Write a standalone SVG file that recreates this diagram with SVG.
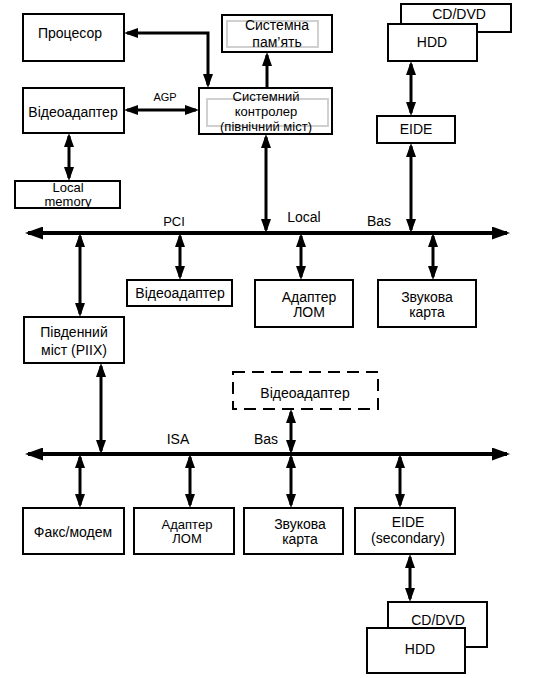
<svg xmlns="http://www.w3.org/2000/svg" width="536" height="678" viewBox="0 0 536 678">
<style>
.box{fill:#fff;stroke:#000;stroke-width:2}
.dash{fill:#fff;stroke:#000;stroke-width:2;stroke-dasharray:12 7}
.inner{fill:none;stroke:#d0d0d0;stroke-width:2}
text{font-family:"Liberation Sans",Arial,sans-serif;font-size:14px;fill:#000;text-anchor:middle}
.lbl{font-size:13px}
.sm{font-size:11px}
.t{font-size:13px}
.c{fill:none;stroke:#000;stroke-width:3;marker-start:url(#a);marker-end:url(#a)}
.c1{fill:none;stroke:#000;stroke-width:3;marker-end:url(#a)}
.bus{fill:none;stroke:#000;stroke-width:4;marker-start:url(#b);marker-end:url(#b)}
</style>
<defs>
<marker id="a" markerUnits="userSpaceOnUse" viewBox="0 0 14 10" refX="11" refY="5" markerWidth="14" markerHeight="10" orient="auto-start-reverse"><path d="M0,0 L14,5 L0,10 z" fill="#000"/></marker>
<marker id="b" markerUnits="userSpaceOnUse" viewBox="0 0 18 13" refX="15" refY="6.5" markerWidth="18" markerHeight="13" orient="auto-start-reverse"><path d="M0,0 L18,6.5 L0,13 z" fill="#000"/></marker>
</defs>

<g id="connectors">
<path class="bus" d="M28,233 H507"/>
<path class="bus" d="M28,454 H507"/>
<path class="c" d="M127,33 H208 V85"/>
<path class="c" d="M127,110 H196"/>
<path class="c" d="M69,136 V178"/>
<path class="c1" d="M267,88 V55"/>
<path class="c" d="M266,137 V230"/>
<path class="c" d="M411,64 V113"/>
<path class="c" d="M411,146 V230"/>
<path class="c" d="M80,236 V314"/>
<path class="c" d="M180,236 V277"/>
<path class="c" d="M301,236 V277"/>
<path class="c" d="M433,236 V277"/>
<path class="c" d="M101,366 V451"/>
<path class="c" d="M291,412 V451"/>
<path class="c" d="M80,457 V505"/>
<path class="c" d="M190,457 V505"/>
<path class="c" d="M291,457 V505"/>
<path class="c" d="M400,457 V505"/>
<path class="c" d="M410,557 V599"/>
</g>

<g id="labels">
<text class="sm" x="165" y="101">AGP</text>
<text class="lbl" x="174" y="226">PCI</text>
<text x="304" y="222">Local</text>
<text x="379" y="226">Bas</text>
<text x="178" y="444">ISA</text>
<text x="266" y="444">Bas</text>
</g>

<g id="processor"><rect class="box" x="23" y="14" width="101" height="47"/><text x="70" y="38">Процесор</text></g>
<g id="sysmem"><rect class="box" x="222" y="15" width="110" height="37"/><rect class="inner" x="227" y="21" width="91" height="26"/><text x="277" y="30">Системна</text><text x="277" y="47">пам’ять</text></g>
<g id="northbridge"><rect class="box" x="199" y="88" width="133" height="46"/><rect class="inner" x="207" y="99" width="121" height="27"/><text class="t" x="266" y="101">Системний</text><text class="t" x="266" y="116">контролер</text><text class="t" x="266" y="131">(північний міст)</text></g>
<g id="videoagp"><rect class="box" x="23" y="88" width="101" height="45"/><text x="73" y="117">Відеоадаптер</text></g>
<g id="localmem"><rect class="box" x="15" y="181" width="105" height="27"/><text class="t" x="68" y="192">Local</text><text class="t" x="68" y="206">memory</text></g>
<g id="cddvd1"><rect class="box" x="401" y="4" width="110" height="28"/><text x="459" y="19">CD/DVD</text></g>
<g id="hdd1"><rect class="box" x="388" y="24" width="89" height="37"/><text x="432" y="47">HDD</text></g>
<g id="eide1"><rect class="box" x="377" y="116" width="78" height="27"/><text x="416" y="134">EIDE</text></g>
<g id="videopci"><rect class="box" x="127" y="280" width="105" height="26"/><text x="180" y="298">Відеоадаптер</text></g>
<g id="lanpci"><rect class="box" x="255" y="280" width="98" height="47"/><text x="309" y="302">Адаптер</text><text x="309" y="317">ЛОМ</text></g>
<g id="soundpci"><rect class="box" x="378" y="280" width="98" height="47"/><text x="427" y="302">Звукова</text><text x="427" y="317">карта</text></g>
<g id="southbridge"><rect class="box" x="24" y="317" width="100" height="46"/><text x="74" y="337">Південний</text><text x="74" y="355">міст (PIIX)</text></g>
<g id="videoisa"><rect class="dash" x="233" y="372" width="145" height="37"/><text x="305" y="398">Відеоадаптер</text></g>
<g id="fax"><rect class="box" x="23" y="508" width="101" height="46"/><text x="73" y="537">Факс/модем</text></g>
<g id="lanisa"><rect class="box" x="134" y="508" width="100" height="46"/><text class="t" x="187" y="529">Адаптер</text><text class="t" x="187" y="543">ЛОМ</text></g>
<g id="soundisa"><rect class="box" x="244" y="508" width="99" height="46"/><text x="300" y="529">Звукова</text><text x="300" y="544">карта</text></g>
<g id="eide2"><rect class="box" x="355" y="508" width="100" height="46"/><text x="408" y="527">EIDE</text><text x="408" y="543">(secondary)</text></g>
<g id="cddvd2"><rect class="box" x="388" y="602" width="99" height="45"/><text x="438" y="625">CD/DVD</text></g>
<g id="hdd2"><rect class="box" x="367" y="628" width="98" height="45"/><text x="420" y="654">HDD</text></g>
</svg>
